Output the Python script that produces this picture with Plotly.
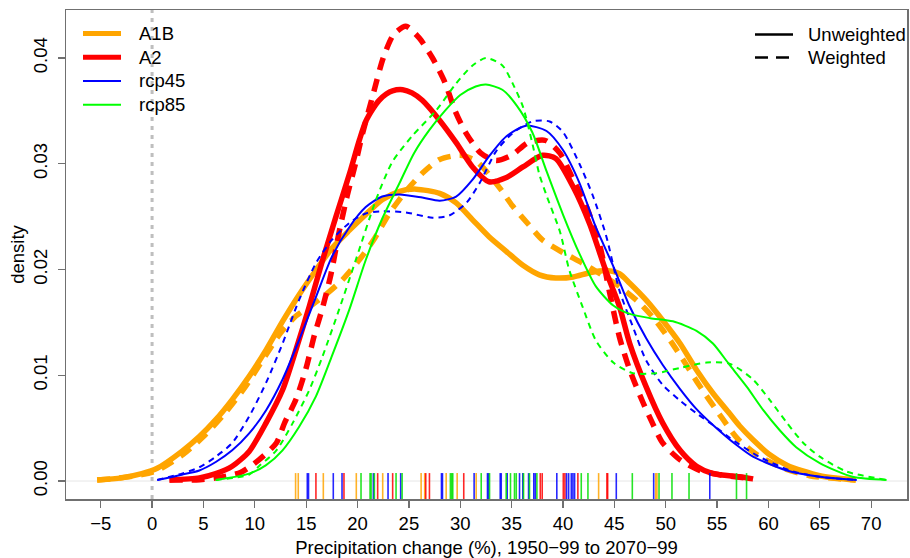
import plotly.graph_objects as go

# ---------------- data ----------------
A1B_unw_x = [-5.35, -3, -1, 0.5, 2.9, 4.6, 6.2, 7.8, 9.45, 11.1, 12.7, 14.3, 16.0, 17.5, 19.2, 20.8, 22.4, 24.1, 25.7, 28.0,
             29.6, 31.2, 32.8, 34.5, 36.1, 37.7, 39.3, 41.0, 42.6, 44.2, 45.5, 46.5, 48.1, 49.7, 51.4, 53.0, 54.6, 56.2,
             57.2, 58.5, 60.1, 61.8, 65.0, 68.5]
A1B_unw_y = [0.0001, 0.0003, 0.0007, 0.0012, 0.0028, 0.0042, 0.0058, 0.0077, 0.0099, 0.0124, 0.0151, 0.0176, 0.0200,
             0.0220, 0.0237, 0.0252, 0.0266, 0.0274, 0.0276, 0.0272, 0.0263, 0.0247, 0.0231, 0.0217, 0.0204, 0.0195,
             0.0192, 0.0193, 0.0197, 0.0199, 0.0196, 0.0187, 0.0171, 0.0152, 0.0130, 0.0105, 0.0083, 0.0064, 0.0052,
             0.0039, 0.0025, 0.0015, 0.0005, 0.0001]

A1B_wt_x = [-5.35, -3, -1, 0.5, 3, 5, 7, 9, 11, 12.5, 14, 15.5, 17, 18.5, 20, 21.5, 23.1, 24.7, 26.3, 28.0, 30.0, 31.5,
            32.8, 34.0, 35.1, 36.7, 38.0, 40.0, 41.9, 43.6, 45.5, 47.5, 49.0, 50.5, 52.0, 53.3, 55.6, 57.0, 59.0, 61.5,
            64.0, 68.5]
A1B_wt_y = [0.0001, 0.0003, 0.0006, 0.0010, 0.0025, 0.0042, 0.0063, 0.0088, 0.0118, 0.0140, 0.0156, 0.0166, 0.0177,
            0.0190, 0.0207, 0.0227, 0.0253, 0.0274, 0.0291, 0.0304, 0.0308, 0.0303, 0.0290, 0.0275, 0.0260, 0.0242,
            0.0228, 0.0216, 0.0206, 0.0196, 0.0184, 0.0168, 0.0152, 0.0132, 0.0110, 0.0090, 0.0058, 0.0040, 0.0024,
            0.0012, 0.0005, 0.0001]

A2_unw_x = [1.7, 4.6, 6.2, 7.8, 9.45, 11.1, 12.7, 14.0, 15.3, 16.6, 17.9, 19.2, 20.2, 20.8, 21.5, 22.1, 22.8, 23.4,
            24.4, 25.3, 26.3, 28.0, 29.6, 31.2, 32.8, 34.5, 36.1, 38.0, 39.3, 41.0, 42.6, 44.2, 45.5, 46.5, 48.1, 49.7,
            51.4, 53.0, 54.6, 57.2, 58.5]
A2_unw_y = [0.0001, 0.0003, 0.0007, 0.0014, 0.0028, 0.0055, 0.0086, 0.0124, 0.0165, 0.0209, 0.0250, 0.0290, 0.0323,
            0.0340, 0.0352, 0.0360, 0.0366, 0.0369, 0.0370, 0.0367, 0.0360, 0.0341, 0.0320, 0.0297, 0.0283, 0.0287,
            0.0297, 0.0308, 0.0305, 0.0278, 0.0243, 0.0198, 0.0165, 0.0130, 0.0089, 0.0055, 0.0029, 0.0014, 0.0007,
            0.0004, 0.0002]

A2_wt_x = [1.7, 4.3, 6.2, 8.6, 10.4, 12.1, 12.9, 14.0, 15.0, 15.8, 16.6, 17.4, 18.2, 19.0, 19.8, 20.5, 21.5, 22.5,
           23.5, 24.7, 26.0, 27.3, 28.5, 29.5, 30.5, 32.0, 33.5, 35.0, 36.6, 38.3, 39.7, 41.0, 42.3, 43.6, 44.5, 45.5,
           46.5, 47.8, 48.7, 49.7, 51.4, 53.3, 55.3, 58.5]
A2_wt_y = [0.0001, 0.0001, 0.0003, 0.0008, 0.0020, 0.0036, 0.0055, 0.0077, 0.0107, 0.0138, 0.0164, 0.0195, 0.0235,
           0.0270, 0.0300, 0.0329, 0.0365, 0.0400, 0.0422, 0.0430, 0.0419, 0.0400, 0.0377, 0.0350, 0.0330, 0.0310,
           0.0303, 0.0308, 0.0320, 0.0322, 0.0310, 0.0285, 0.0259, 0.0222, 0.0180, 0.0136, 0.0105, 0.0074, 0.0055,
           0.0036, 0.0020, 0.0010, 0.0006, 0.0002]

rcp45_unw_x = [0.5, 2.9, 4.6, 6.2, 7.8, 9.45, 11.1, 12.7, 14.3, 15.95, 17.5, 19.2, 20.8, 22.4, 24.1, 26.3, 28.0, 29.6,
               31.2, 32.8, 34.5, 36.4, 38.4, 40.0, 41.6, 43.2, 44.9, 46.5, 48.1, 49.7, 51.4, 53.0, 54.6, 56.9, 58.5,
               61.8, 65.0, 68.6]
rcp45_unw_y = [0.0001, 0.0006, 0.0010, 0.0018, 0.0029, 0.0045, 0.0067, 0.0096, 0.0133, 0.0174, 0.0212, 0.0240,
               0.0259, 0.0269, 0.0271, 0.0268, 0.0265, 0.0269, 0.0285, 0.0307, 0.0326, 0.0336, 0.0331, 0.0313,
               0.0282, 0.0240, 0.0203, 0.0165, 0.0135, 0.0110, 0.0087, 0.0068, 0.0053, 0.0034, 0.0023, 0.0010,
               0.0004, 0.0001]

rcp45_wt_x = [0.5, 2.9, 4.6, 6.2, 7.8, 9.45, 11.1, 12.7, 14.3, 15.95, 17.5, 19.2, 20.8, 22.4, 24.7, 27.3, 28.9, 30.6,
              31.9, 33.5, 35.1, 37.0, 38.7, 40.0, 41.6, 42.9, 44.2, 45.5, 46.8, 48.1, 49.7, 51.4, 53.0, 54.6, 56.2,
              59.1, 62.4, 65.0, 68.6]
rcp45_wt_y = [0.0001, 0.0007, 0.0013, 0.0023, 0.0036, 0.0061, 0.0093, 0.0130, 0.0171, 0.0206, 0.0228, 0.0244, 0.0253,
              0.0255, 0.0254, 0.0249, 0.0251, 0.0263, 0.0282, 0.0312, 0.0329, 0.0340, 0.0340, 0.0330, 0.0300, 0.0270,
              0.0232, 0.0180, 0.0146, 0.0114, 0.0091, 0.0076, 0.0064, 0.0053, 0.0041, 0.0023, 0.0009, 0.0004, 0.0001]

rcp85_unw_x = [6.2, 9.45, 11.1, 12.7, 14.3, 15.95, 17.5, 19.2, 20.8, 22.4, 24.1, 25.5, 27.0, 28.5, 30.0, 31.5, 32.5,
               34.1, 35.5, 37.0, 38.4, 40.0, 41.6, 43.2, 44.9, 46.5, 48.5, 50.7, 53.0, 54.6, 56.2, 57.9, 59.5, 61.1,
               62.7, 65.0, 68.2, 71.5]
rcp85_unw_y = [0.0001, 0.0007, 0.0015, 0.0029, 0.0051, 0.0080, 0.0118, 0.0162, 0.0209, 0.0248, 0.0282, 0.0310,
               0.0332, 0.0350, 0.0365, 0.0373, 0.0375, 0.0370, 0.0355, 0.0330, 0.0293, 0.0252, 0.0215, 0.0184,
               0.0166, 0.0158, 0.0154, 0.0151, 0.0142, 0.0130, 0.0110, 0.0089, 0.0067, 0.0048, 0.0032, 0.0017,
               0.0004, 0.0001]

rcp85_wt_x = [6.2, 8.0, 9.45, 10.4, 12.1, 13.7, 15.3, 16.6, 18.2, 19.9, 21.8, 23.4, 25.3, 27.7, 29.6, 31.2, 32.5, 34.1,
              35.1, 36.1, 37.0, 37.7, 38.4, 39.7, 40.6, 41.9, 43.2, 44.9, 46.8, 49.1, 51.4, 54.0, 56.2, 58.5, 60.1,
              61.8, 63.4, 65.0, 67.6, 71.5]
rcp85_wt_y = [0.0001, 0.0003, 0.0006, 0.0014, 0.0029, 0.0055, 0.0086, 0.0118, 0.0162, 0.0211, 0.0266, 0.0302, 0.0326,
              0.0351, 0.0376, 0.0393, 0.0400, 0.0393, 0.0376, 0.0354, 0.0320, 0.0290, 0.0270, 0.0236, 0.0200, 0.0165,
              0.0133, 0.0112, 0.0102, 0.0102, 0.0107, 0.0112, 0.0111, 0.0096, 0.0077, 0.0055, 0.0036, 0.0023, 0.0009,
              0.0001]

# individual model values (rug)
rug_A1B = [13.97, 14.23, 16.67, 19.88, 22.45, 26.19, 26.54, 28.63, 29.70, 31.55, 43.47, 49.03, 49.15]
rug_A2 = [15.95, 18.68, 21.96, 23.42, 26.64, 27.0, 30.34, 37.79, 37.98, 40.03, 40.19, 41.45, 44.28, 44.35]
rug_rcp45 = [15.11, 15.23, 17.64, 18.49, 21.54, 22.97, 24.2, 28.17, 28.27, 31.35, 32.65, 32.75, 33.89, 33.99, 34.57,
             35.77, 36.09, 36.65, 37.16, 37.3, 39.4, 40.35, 40.55, 40.81, 40.97, 41.13, 45.19, 48.83, 54.29]
rug_rcp85 = [20.34, 21.22, 21.32, 21.64, 23.75, 24.34, 29.04, 29.17, 29.27, 32.04, 32.85, 34.47, 34.89, 35.28, 35.45,
             36.16, 36.74, 37.46, 41.78, 42.43, 46.75, 49.35, 50.61, 52.27, 56.89, 57.87]

scenarios = ["A1B", "A2", "rcp45", "rcp85"]
weight_labels = ["Unweighted", "Weighted"]
x_ticks = list(range(-5, 71, 5))
y_ticks = [0.0, 0.01, 0.02, 0.03, 0.04]
y_tick_labels = ["0.00", "0.01", "0.02", "0.03", "0.04"]
x_title = "Precipitation change (%), 1950\u221299 to 2070\u221299"
y_title = "density"

# ---------------- styles ----------------
colors = {"A1B": "#FFA500", "A2": "#FF0000", "rcp45": "#0000FF", "rcp85": "#00FF00"}
rug_colors = {"A1B": "rgba(255,165,0,0.85)", "A2": "rgba(255,0,0,0.85)",
              "rcp45": "rgba(0,0,255,0.85)", "rcp85": "rgba(0,225,0,0.85)"}
widths = {"A1B": 5.5, "A2": 5.5, "rcp45": 2, "rcp85": 2}
dashes = {"A1B": "13px,9px", "A2": "13px,9px", "rcp45": "6px,5px", "rcp85": "6px,5px"}
FONT = "Liberation Sans, Arial, Helvetica, sans-serif"
FS = 18.5
AXC = "#707070"

curves = {
    "A1B": ((A1B_unw_x, A1B_unw_y), (A1B_wt_x, A1B_wt_y)),
    "A2": ((A2_unw_x, A2_unw_y), (A2_wt_x, A2_wt_y)),
    "rcp45": ((rcp45_unw_x, rcp45_unw_y), (rcp45_wt_x, rcp45_wt_y)),
    "rcp85": ((rcp85_unw_x, rcp85_unw_y), (rcp85_wt_x, rcp85_wt_y)),
}
rugs = {"A1B": rug_A1B, "A2": rug_A2, "rcp45": rug_rcp45, "rcp85": rug_rcp85}

fig = go.Figure()

# rug marks (on an overlay axis spanning the plot height)
RUG_H = 0.053
for s in scenarios:
    xs, ys = [], []
    for v in rugs[s]:
        xs += [v, v, None]
        ys += [0, RUG_H, None]
    fig.add_trace(go.Scatter(x=xs, y=ys, yaxis="y2", mode="lines",
                             line=dict(color=rug_colors[s], width=1.6),
                             showlegend=False, hoverinfo="skip"))

for s in scenarios:
    (ux, uy), (wx, wy) = curves[s]
    fig.add_trace(go.Scatter(x=ux, y=uy, mode="lines", name=s + " unweighted",
                             line=dict(color=colors[s], width=widths[s], shape="spline", smoothing=0.7),
                             showlegend=False, hoverinfo="skip"))
    fig.add_trace(go.Scatter(x=wx, y=wy, mode="lines", name=s + " weighted",
                             line=dict(color=colors[s], width=widths[s], dash=dashes[s],
                                       shape="spline", smoothing=0.7),
                             showlegend=False, hoverinfo="skip"))

shapes = [
    # zero-density reference line
    dict(type="line", xref="paper", yref="y", x0=0, x1=1, y0=0, y1=0,
         line=dict(color="#E6E6E6", width=1), layer="below"),
    # zero-change reference line
    dict(type="line", xref="x", yref="paper", x0=0, x1=0, y0=0, y1=1,
         line=dict(color="#BEBEBE", width=3, dash="4px,5px"), layer="below"),
]
annotations = []

# legend helpers (pixel -> paper)
PW, PH, ML, MB = 841.0, 489.0, 66.0, 59.0
def px2paper_x(px):
    return (px - ML) / PW
def py2paper_y(py):
    return (558 - MB - py) / PH

# legend, top-left (scenarios)
legend_rows = [33.5, 57.3, 81.0, 104.7]
for s, ry in zip(scenarios, legend_rows):
    shapes.append(dict(type="line", xref="paper", yref="paper",
                       x0=px2paper_x(83), x1=px2paper_x(121), y0=py2paper_y(ry), y1=py2paper_y(ry),
                       line=dict(color=colors[s], width=min(widths[s], 5))))
    annotations.append(dict(xref="paper", yref="paper", x=px2paper_x(137), y=py2paper_y(ry),
                            text=s, showarrow=False, xanchor="left", yanchor="middle",
                            font=dict(family=FONT, size=FS, color="black")))

# legend, top-right (weighting)
wt_rows = [34.5, 57.5]
for lab, ry, d in zip(weight_labels, wt_rows, ["solid", "13px,8px"]):
    shapes.append(dict(type="line", xref="paper", yref="paper",
                       x0=px2paper_x(755), x1=px2paper_x(793), y0=py2paper_y(ry), y1=py2paper_y(ry),
                       line=dict(color="black", width=2.5, dash=d)))
    annotations.append(dict(xref="paper", yref="paper", x=px2paper_x(806), y=py2paper_y(ry),
                            text=lab, showarrow=False, xanchor="left", yanchor="middle",
                            font=dict(family=FONT, size=FS, color="black")))

fig.update_layout(
    width=910, height=558,
    margin=dict(l=66, r=3, t=10, b=59, autoexpand=False),
    paper_bgcolor="white", plot_bgcolor="white",
    font=dict(family=FONT, size=FS, color="black"),
    showlegend=False,
    shapes=shapes, annotations=annotations,
    xaxis=dict(range=[-8.38, 73.49], tickmode="array", tickvals=x_ticks, automargin=False,
               showline=True, mirror=True, linecolor=AXC, linewidth=1.5,
               ticks="outside", ticklen=7, tickwidth=1.3, tickcolor=AXC,
               showgrid=False, zeroline=False,
               tickfont=dict(family=FONT, size=FS, color="black"),
               title=dict(text=x_title, standoff=9, font=dict(family=FONT, size=FS, color="black"))),
    yaxis=dict(range=[-0.0017, 0.04454], tickmode="array", tickvals=y_ticks, ticktext=y_tick_labels,
               tickangle=-90, automargin=False, ticklabelstandoff=3,
               showline=True, mirror=True, linecolor=AXC, linewidth=1.5,
               ticks="outside", ticklen=7, tickwidth=1.3, tickcolor=AXC,
               showgrid=False, zeroline=False,
               tickfont=dict(family=FONT, size=FS, color="black"),
               title=dict(text=y_title, standoff=0, font=dict(family=FONT, size=FS, color="black"))),
    yaxis2=dict(range=[0, 1], overlaying="y", visible=False, fixedrange=True),
)

# the page's default body margin would shift the whole figure; remove it
fig.write_html("out.html", config={"displayModeBar": False, "staticPlot": True},
               post_script="document.body.style.margin='0';document.body.style.overflow='hidden';")
